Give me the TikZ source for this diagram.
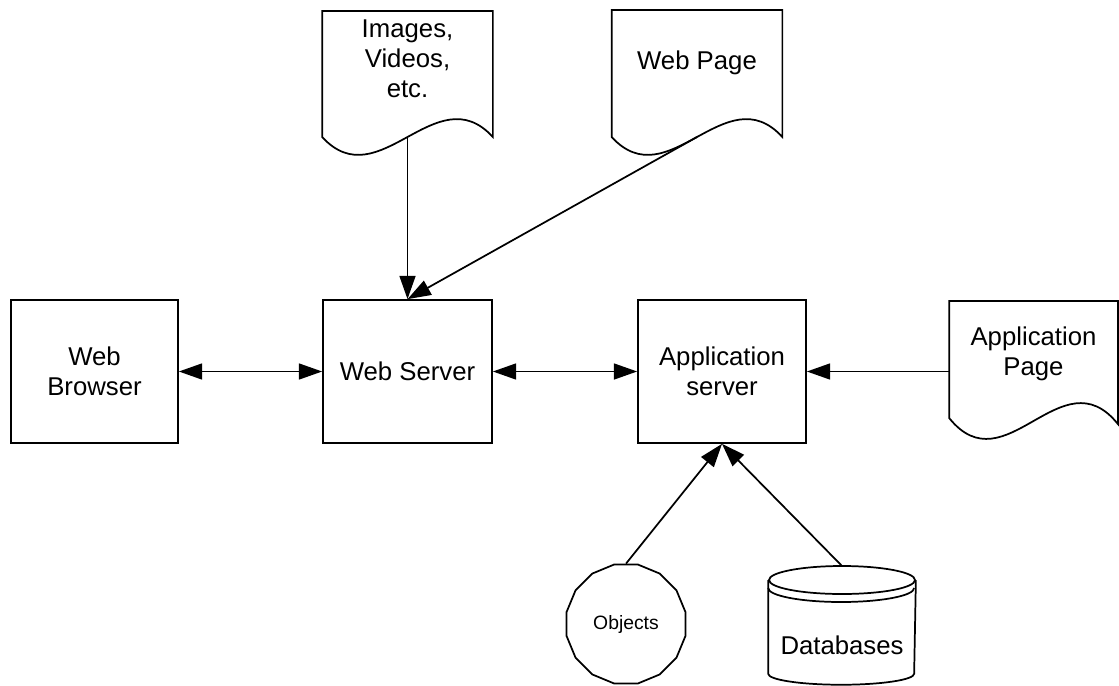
\documentclass[tikz,border=0pt]{standalone}
\usepackage{fontspec}
\setmainfont{Liberation Sans}
\usetikzlibrary{arrows.meta,calc,shapes.geometric}

% Document outline hanging from the top edge of node #1:
% #2 = drop of the left side, #3 = drop of the right side, #4 = wave amplitude.
\newcommand\docoutline[4]{%
  \draw (#1.north west) -- (#1.north east) -- ($(#1.north east)+(0,#3)$)
    .. controls ($(#1.north west)!0.6667!(#1.north east)+(0,#3-#4)$)
       and ($(#1.north west)!0.3333!(#1.north east)+(0,#2+#4)$)
    .. ($(#1.north west)+(0,#2)$) -- cycle;
  \coordinate (#1-w) at ($(#1.north)+(0,{(#2+#3)/2})$);
}

\begin{document}
\begin{tikzpicture}[x=0.75pt,y=-0.75pt,
  line width=1.3pt,
  font=\fontsize{19.3}{22.8}\selectfont,
  box/.style={draw, rectangle, minimum width=126.75pt, minimum height=107.25pt,
    align=center, inner sep=0pt},
  doc/.style={rectangle, minimum width=126.75pt, align=center, inner sep=0pt, anchor=north},
  tip/.style={Triangle[length=17.5pt,width=12pt]},
  arr/.style={-{Triangle[length=17.5pt,width=12pt]}},
  darr/.style={{Triangle[length=17.5pt,width=12pt]}-{Triangle[length=17.5pt,width=12pt]}}]

\useasboundingbox (0,0) rectangle (1119,685);

% main boxes
\node[box, minimum width=125.25pt] (wb) at (94.5,371.5) {Web\\Browser};
\node[box] (ws) at (407.5,371.5) {Web Server};
\node[box, minimum width=126pt] (as) at (722,371.5) {Application\\server};

% documents
\node[doc, minimum height=70.5pt] (img) at (407.5,11) {Images,\\Videos,\\etc.};
\docoutline{img}{126}{126}{62}
\node[doc, minimum height=78pt] (wp) at (697,10) {Web Page};
\docoutline{wp}{127}{127}{62}
\node[doc, minimum width=125.25pt, minimum height=78pt] (ap) at (1033.5,301) {Application\\Page};
\docoutline{ap}{117}{123}{70}

% objects
\node[draw, regular polygon, regular polygon sides=16, minimum size=91pt, inner sep=0pt,
  font=\fontsize{14.5}{17}\selectfont] (obj) at (626,624) {Objects};

% database cylinder
\node[rectangle, minimum width=109.5pt, minimum height=57.75pt, inner sep=0pt, anchor=north]
  (db) at (842,606) {Databases};
\draw ($(db.north)+(0,-26)$) ellipse [x radius=54.75pt, y radius=10.5pt];
\draw ($(db.north west)+(0,-18)$) arc [start angle=180, end angle=360, x radius=54.75pt, y radius=10.5pt];
\draw ($(db.north west)+(0,-26)$) -- ($(db.south west)+(0,-11)$)
  arc [start angle=180, end angle=360, x radius=54.75pt, y radius=8.25pt]
  -- ($(db.north east)+(0,-26)$);
\coordinate (db-top) at ($(db.north)+(0,-40)$);

% connectors
\draw[darr] (wb.east) -- (ws.west);
\draw[darr] (ws.east) -- (as.west);
\draw[arr] (ap.west |- as.east) -- (as.east);
\draw[arr] (img-w) -- (ws.north);
\draw[arr] (wp-w) -- (ws.north);
\draw[arr] (obj.north) -- (as.south);
\draw[arr] (db-top) -- (as.south);
\end{tikzpicture}
\end{document}
